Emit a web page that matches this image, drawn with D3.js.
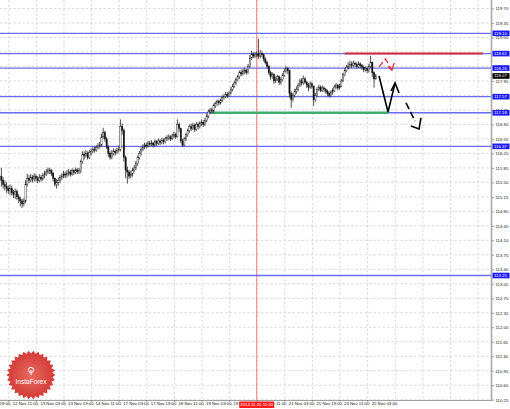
<!DOCTYPE html>
<html><head><meta charset="utf-8">
<script src="https://cdn.jsdelivr.net/npm/d3@7"></script>
<style>
html,body{margin:0;padding:0;background:#fff;}
svg{display:block;font-family:"Liberation Sans",Arial,sans-serif;}
</style></head><body>
<svg id="c" width="510" height="409"></svg>
<script>
// ---- data (H1 bars, first bar index = -4, index 0 = 12 Nov 11:00) ----
const firstBar = -4;
const opens = [
115.65,115.55,115.45,115.40,115.35,115.30,115.35,115.25,115.20,115.28,
115.15,115.10,115.05,114.98,115.05,115.45,115.60,115.55,115.62,115.58,
115.65,115.60,115.55,115.62,115.58,115.66,115.70,115.75,115.80,115.78,
115.72,115.60,115.45,115.50,115.55,115.62,115.65,115.70,115.68,115.72,
115.75,115.70,115.78,115.74,115.80,115.76,115.78,116.00,116.18,116.15,
116.20,116.10,116.22,116.25,116.30,116.28,116.35,116.38,116.40,116.60,
116.70,116.55,116.35,116.20,116.10,116.20,116.25,116.22,116.28,116.30,
116.85,116.75,116.10,115.80,115.75,115.65,115.70,115.80,115.85,115.95,
116.10,116.20,116.30,116.35,116.40,116.38,116.45,116.42,116.45,116.40,
116.48,116.44,116.50,116.46,116.52,116.48,116.55,116.58,116.60,116.55,
116.62,116.65,116.60,116.90,116.80,116.50,116.40,116.55,116.65,116.75,
116.85,116.80,116.88,116.78,116.90,116.85,116.92,116.95,116.90,117.00,
117.10,117.20,117.25,117.22,117.35,117.40,117.45,117.42,117.48,117.55,
117.58,117.62,117.60,117.66,117.75,117.82,117.90,117.98,118.05,118.15,
118.12,118.18,118.20,118.15,118.30,118.50,118.60,118.55,118.58,118.60,
118.55,118.62,118.58,118.48,118.40,118.30,118.15,118.05,118.10,117.95,
118.00,118.05,117.92,117.98,118.08,118.18,118.25,118.20,117.65,117.50,
117.60,117.70,117.75,117.85,117.95,117.90,118.00,117.92,117.85,117.80,
117.88,117.82,117.50,117.60,117.75,117.80,117.72,117.78,117.75,117.70,
117.65,117.60,117.68,117.72,117.80,117.85,117.78,117.82,117.95,118.10,
118.20,118.28,118.30,118.35,118.32,118.38,118.35,118.30,118.36,118.32,
118.28,118.22,118.25,118.20,118.30,118.40,118.15,118.00];
const highs = [
115.85,115.62,115.55,115.50,115.42,115.45,115.42,115.32,115.35,115.33,
115.22,115.15,115.10,115.12,115.55,115.70,115.68,115.70,115.68,115.72,
115.70,115.65,115.70,115.68,115.72,115.78,115.82,115.86,115.85,115.82,
115.75,115.62,115.58,115.62,115.68,115.72,115.78,115.76,115.80,115.82,
115.80,115.84,115.82,115.86,115.84,115.85,116.05,116.25,116.25,116.28,
116.25,116.28,116.32,116.36,116.36,116.40,116.45,116.48,116.68,116.82,
116.75,116.60,116.40,116.25,116.28,116.32,116.30,116.34,116.38,117.02,
116.92,116.80,116.15,115.88,115.80,115.78,115.85,115.92,116.02,116.15,
116.26,116.36,116.42,116.46,116.46,116.50,116.50,116.52,116.48,116.54,
116.52,116.56,116.54,116.58,116.56,116.60,116.64,116.66,116.64,116.68,
116.72,116.70,117.02,116.95,116.82,116.55,116.60,116.70,116.80,116.90,
116.92,116.94,116.92,116.96,116.95,116.98,117.02,117.00,117.06,117.16,
117.26,117.30,117.30,117.40,117.45,117.50,117.50,117.52,117.60,117.64,
117.68,117.68,117.70,117.80,117.88,117.96,118.04,118.10,118.20,118.22,
118.24,118.27,118.24,118.36,118.58,118.68,118.64,118.65,118.66,118.97,
118.70,118.66,118.62,118.52,118.44,118.34,118.20,118.16,118.14,118.06,
118.10,118.08,118.04,118.14,118.24,118.32,118.28,118.22,117.70,117.66,
117.76,117.82,117.90,118.00,118.02,118.08,118.04,117.95,117.90,117.94,
117.92,117.84,117.66,117.80,117.86,117.84,117.84,117.82,117.78,117.74,
117.70,117.72,117.78,117.86,117.90,117.88,117.88,118.00,118.15,118.26,
118.34,118.40,118.44,118.42,118.44,118.42,118.40,118.42,118.40,118.36,
118.32,118.30,118.30,118.36,118.56,118.42,118.18,118.12];
const lows = [
115.40,115.35,115.30,115.25,115.22,115.20,115.18,115.12,115.10,115.08,
115.00,114.92,114.88,114.92,115.00,115.40,115.48,115.50,115.50,115.52,
115.52,115.48,115.50,115.52,115.54,115.60,115.65,115.70,115.70,115.65,
115.52,115.40,115.35,115.42,115.48,115.55,115.60,115.60,115.62,115.66,
115.64,115.66,115.68,115.70,115.70,115.70,115.72,115.95,116.05,116.10,
116.05,116.06,116.15,116.20,116.22,116.24,116.30,116.32,116.36,116.55,
116.48,116.30,116.12,116.05,116.06,116.15,116.15,116.18,116.22,116.25,
116.65,116.00,115.60,115.47,115.58,115.60,115.64,115.74,115.80,115.90,
116.05,116.15,116.25,116.30,116.32,116.34,116.36,116.38,116.34,116.36,
116.38,116.40,116.40,116.42,116.42,116.44,116.50,116.52,116.50,116.52,
116.56,116.55,116.58,116.72,116.45,116.35,116.38,116.50,116.60,116.70,
116.74,116.76,116.72,116.74,116.78,116.80,116.86,116.84,116.86,116.95,
117.05,117.15,117.16,117.18,117.30,117.35,117.36,117.38,117.44,117.50,
117.54,117.54,117.56,117.62,117.70,117.78,117.86,117.94,118.00,118.06,
118.08,118.12,118.10,118.12,118.26,118.46,118.50,118.50,118.52,118.48,
118.50,118.52,118.42,118.35,118.25,118.10,117.98,118.00,117.88,117.90,
117.95,117.85,117.86,117.94,118.05,118.15,118.12,117.55,117.30,117.45,
117.55,117.64,117.70,117.80,117.84,117.86,117.88,117.78,117.70,117.76,
117.76,117.35,117.45,117.56,117.70,117.68,117.68,117.68,117.64,117.58,
117.55,117.56,117.62,117.68,117.76,117.72,117.74,117.80,117.92,118.06,
118.16,118.22,118.26,118.26,118.28,118.28,118.24,118.26,118.26,118.22,
118.16,118.18,118.14,118.15,118.26,118.05,117.79,117.98];
const closes = [
115.55,115.45,115.40,115.35,115.30,115.35,115.25,115.20,115.28,115.15,
115.10,115.05,114.98,115.05,115.45,115.60,115.55,115.62,115.58,115.65,
115.60,115.55,115.62,115.58,115.66,115.70,115.75,115.80,115.78,115.72,
115.60,115.45,115.50,115.55,115.62,115.65,115.70,115.68,115.72,115.75,
115.70,115.78,115.74,115.80,115.76,115.78,116.00,116.18,116.15,116.20,
116.10,116.22,116.25,116.30,116.28,116.35,116.38,116.40,116.60,116.70,
116.55,116.35,116.20,116.10,116.20,116.25,116.22,116.28,116.30,116.85,
116.75,116.10,115.80,115.75,115.65,115.70,115.80,115.85,115.95,116.10,
116.20,116.30,116.35,116.40,116.38,116.45,116.42,116.45,116.40,116.48,
116.44,116.50,116.46,116.52,116.48,116.55,116.58,116.60,116.55,116.62,
116.65,116.60,116.90,116.80,116.50,116.40,116.55,116.65,116.75,116.85,
116.80,116.88,116.78,116.90,116.85,116.92,116.95,116.90,117.00,117.10,
117.20,117.25,117.22,117.35,117.40,117.45,117.42,117.48,117.55,117.58,
117.62,117.60,117.66,117.75,117.82,117.90,117.98,118.05,118.15,118.12,
118.18,118.20,118.15,118.30,118.50,118.60,118.55,118.58,118.60,118.55,
118.62,118.58,118.48,118.40,118.30,118.15,118.05,118.10,117.95,118.00,
118.05,117.92,117.98,118.08,118.18,118.25,118.20,117.65,117.50,117.60,
117.70,117.75,117.85,117.95,117.90,118.00,117.92,117.85,117.80,117.88,
117.82,117.50,117.60,117.75,117.80,117.72,117.78,117.75,117.70,117.65,
117.60,117.68,117.72,117.80,117.85,117.78,117.82,117.95,118.10,118.20,
118.28,118.30,118.35,118.32,118.38,118.35,118.30,118.36,118.32,118.28,
118.22,118.25,118.20,118.30,118.40,118.15,118.00,118.07];

const timeLabels = ["11 Nov 19:00","12 Nov 11:00","13 Nov 03:00","13 Nov 19:00","14 Nov 11:00",
  "17 Nov 03:00","17 Nov 19:00","18 Nov 11:00","19 Nov 03:00","19 Nov 19:00","20 Nov 11:00",
  "21 Nov 03:00","21 Nov 19:00","24 Nov 11:00","25 Nov 03:00"];
const timeLabelFirstIndex = -16;
const timeStep = 16;
const priceTicks = [110.25,110.60,110.95,111.30,111.65,112.00,112.35,112.70,113.05,113.40,
  113.75,114.10,114.45,114.80,115.15,115.50,115.85,116.20,116.55,116.90,117.25,117.60,
  117.95,118.30,118.65,119.00,119.35,119.70];
const levels = [119.10,118.61,118.26,117.57,117.18,116.37,113.25];
const redLevel = {price:118.61, from:195, to:275};
const greenLevel = {price:117.18, from:118, to:220};
const crosshair = {index:144, label:"2014.11.20 11:00"};
// hand-drawn forecast arrows (bar index, price)
const redPath = [[214.9,118.29],[218.6,118.48],[222.4,118.21]];
const redHead = [[220.1,118.29],[222.4,118.21],[223.6,118.38]];
const blackPath = [[214.9,118.07],[220.1,117.20],[224.2,117.90]];
const blackHead = [[221.9,117.71],[224.2,117.90],[226.5,117.66]];
const blackDash = [[230.5,117.42],[235.8,116.98]];
const blackDashHead = [[233.4,116.86],[238.1,116.79],[239.2,117.06]];

// ---- drawing ----
const W = 510, H = 409, plotR = 491, plotB = 400;
const svg = d3.select("#c");
const x = d3.scaleLinear().domain([-4.81, 279.8]).range([0, plotR]);
const y = d3.scaleLinear().domain([110.243, 119.905]).range([plotB, 0]);

svg.append("rect").attr("width",W).attr("height",H).attr("fill","#fff");

const bars = opens.map((o,j)=>({i:firstBar+j,o:o,h:highs[j],l:lows[j],c:closes[j]}));

// grid
const gridIdx = d3.range(0, 280, timeStep);
svg.append("g").selectAll("line").data(gridIdx).join("line")
  .attr("x1",d=>x(d)+0.5).attr("x2",d=>x(d)+0.5).attr("y1",0).attr("y2",plotB)
  .attr("stroke","#c8c8c8").attr("stroke-width",0.7).attr("stroke-dasharray","2.5,2");
svg.append("g").selectAll("line").data(priceTicks).join("line")
  .attr("x1",0).attr("x2",plotR).attr("y1",d=>y(d)).attr("y2",d=>y(d))
  .attr("stroke","#c8c8c8").attr("stroke-width",0.7).attr("stroke-dasharray","2.5,2");

// crosshair
svg.append("line").attr("x1",x(crosshair.index)).attr("x2",x(crosshair.index))
  .attr("y1",0).attr("y2",plotB).attr("stroke","#f07070").attr("stroke-width",0.9);

// level lines
svg.append("g").selectAll("line").data(levels).join("line")
  .attr("x1",0).attr("x2",plotR).attr("y1",d=>y(d)).attr("y2",d=>y(d))
  .attr("stroke","#6b6bf2").attr("stroke-width",1.4);
svg.append("line").attr("x1",x(greenLevel.from)).attr("x2",x(greenLevel.to))
  .attr("y1",y(greenLevel.price)).attr("y2",y(greenLevel.price))
  .attr("stroke","#3fae6a").attr("stroke-width",2.4);
svg.append("line").attr("x1",x(redLevel.from)).attr("x2",x(redLevel.to))
  .attr("y1",y(redLevel.price)).attr("y2",y(redLevel.price))
  .attr("stroke","#cc2a3a").attr("stroke-width",2);

// candles
const cg = svg.append("g");
cg.selectAll("line").data(bars).join("line")
  .attr("x1",d=>x(d.i)).attr("x2",d=>x(d.i)).attr("y1",d=>y(d.h)).attr("y2",d=>y(d.l))
  .attr("stroke","#222").attr("stroke-width",0.8);
cg.selectAll("rect").data(bars).join("rect")
  .attr("x",d=>x(d.i)-0.65).attr("width",1.3)
  .attr("y",d=>y(Math.max(d.o,d.c))).attr("height",d=>Math.max(0.6,Math.abs(y(d.o)-y(d.c))))
  .attr("fill",d=>d.c>=d.o?"#fff":"#111").attr("stroke","#111").attr("stroke-width",0.4);

// arrows
const line = d3.line().x(d=>x(d[0])).y(d=>y(d[1]));
svg.append("path").attr("d",line(redPath)).attr("fill","none").attr("stroke","#e0303a")
  .attr("stroke-width",1.3).attr("stroke-dasharray","6,3");
svg.append("path").attr("d",line(redHead)).attr("fill","none").attr("stroke","#e0303a").attr("stroke-width",1.3);
svg.append("path").attr("d",line(blackPath)).attr("fill","none").attr("stroke","#000").attr("stroke-width",1.6);
svg.append("path").attr("d",line(blackHead)).attr("fill","none").attr("stroke","#000").attr("stroke-width",1.6);
svg.append("path").attr("d",line(blackDash)).attr("fill","none").attr("stroke","#000")
  .attr("stroke-width",1.6).attr("stroke-dasharray","7,3");
svg.append("path").attr("d",line(blackDashHead)).attr("fill","none").attr("stroke","#000").attr("stroke-width",1.6);

// logo (watermark)
const lg = svg.append("g").attr("transform","translate(31,375)");
const grad = svg.append("defs").append("radialGradient").attr("id","lgrad");
grad.append("stop").attr("offset","0%").attr("stop-color","#e86a5e");
grad.append("stop").attr("offset","100%").attr("stop-color","#d23a36");
const pts = [];
const nSp = 30;
for (let k=0;k<nSp*2;k++){const r = k%2? 21.5:24.5; const a = k*Math.PI/nSp; pts.push([r*Math.cos(a), r*Math.sin(a)]);}
lg.append("polygon").attr("points",pts.map(p=>p.join(",")).join(" ")).attr("fill","url(#lgrad)");
lg.append("circle").attr("cx",0).attr("cy",-5).attr("r",2.6).attr("fill","none").attr("stroke","#fff").attr("stroke-width",1);
lg.append("line").attr("x1",0).attr("x2",0).attr("y1",-5).attr("y2",0).attr("stroke","#fff").attr("stroke-width",1);
lg.append("text").attr("x",0).attr("y",9).attr("text-anchor","middle").attr("fill","#fff")
  .attr("font-size",6.6).text("InstaForex");

// axes frame
svg.append("line").attr("x1",0).attr("x2",plotR).attr("y1",plotB+0.5).attr("y2",plotB+0.5).attr("stroke","#888").attr("stroke-width",0.8);
svg.append("line").attr("x1",plotR+0.5).attr("x2",plotR+0.5).attr("y1",0).attr("y2",plotB+1).attr("stroke","#aaa").attr("stroke-width",1.6);

// price axis
const ya = d3.axisRight(y).tickValues(priceTicks).tickFormat(d3.format(".2f")).tickSize(2).tickPadding(1.5);
const yg = svg.append("g").attr("transform",`translate(${plotR+1},0)`).call(ya);
yg.select(".domain").remove();
yg.selectAll("line").attr("stroke","#666").attr("stroke-width",0.6);
yg.selectAll("text").attr("font-size",4.3).attr("fill","#111").attr("font-family","Liberation Sans, Arial, sans-serif");

// time axis
const tIdx = timeLabels.map((_,k)=>timeLabelFirstIndex+k*timeStep);
const xa = d3.axisBottom(x).tickValues(tIdx).tickFormat((d,k)=>timeLabels[k]).tickSize(2).tickPadding(1);
const xg = svg.append("g").attr("transform",`translate(0,${plotB})`).call(xa);
xg.select(".domain").remove();
xg.selectAll("line").attr("stroke","#666").attr("stroke-width",0.6);
xg.selectAll("text").attr("font-size",4.3).attr("fill","#111").attr("text-anchor","start")
  .attr("x",4).attr("dy","0.55em").attr("font-family","Liberation Sans, Arial, sans-serif");

// level labels
const lab = svg.append("g");
levels.forEach(p=>{
  lab.append("rect").attr("x",plotR+1.5).attr("y",y(p)-2.8).attr("width",17).attr("height",5.6).attr("fill","#1a1aff");
  lab.append("text").attr("x",plotR+3).attr("y",y(p)).attr("dy","0.35em").attr("font-size",4.3).attr("fill","#fff").text(p.toFixed(2));
});
const last = closes[closes.length-1];
lab.append("rect").attr("x",plotR+1.5).attr("y",y(last)-2.8).attr("width",17).attr("height",5.6).attr("fill","#000");
lab.append("text").attr("x",plotR+3).attr("y",y(last)).attr("dy","0.35em").attr("font-size",4.3).attr("fill","#fff").text(last.toFixed(2));

// crosshair time label
const cx = x(crosshair.index);
svg.append("rect").attr("x",cx-17.5).attr("y",plotB+1.5).attr("width",35).attr("height",6.5).attr("fill","#ff1a1a");
svg.append("text").attr("x",cx).attr("y",plotB+4.8).attr("dy","0.35em").attr("text-anchor","middle")
  .attr("font-size",4.3).attr("fill","#fff").text(crosshair.label);
</script>
</body></html>
